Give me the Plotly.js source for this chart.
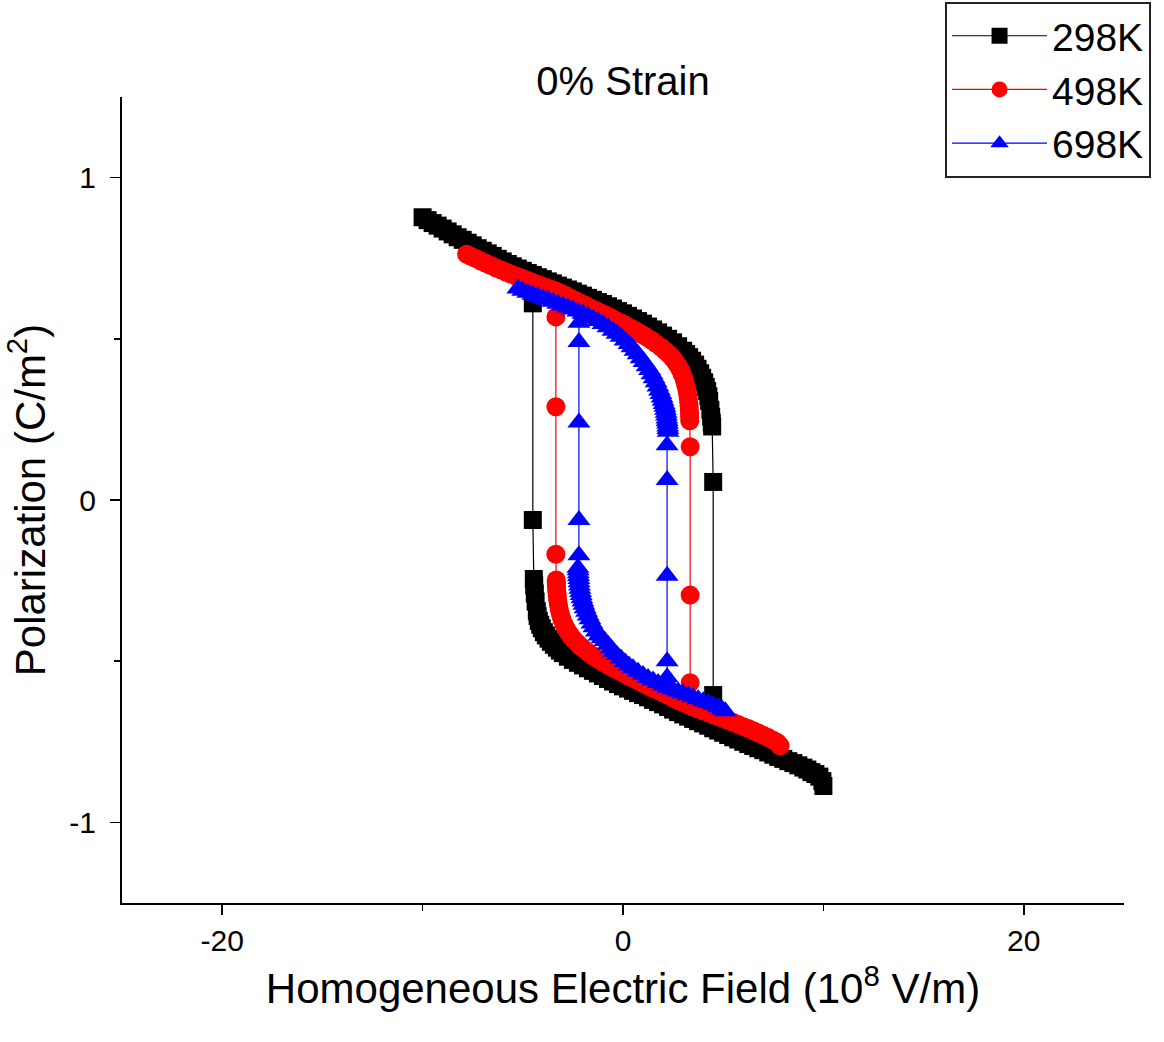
<!DOCTYPE html>
<html>
<head>
<meta charset="utf-8">
<script src="https://cdn.plot.ly/plotly-3.0.1.min.js"></script>
<style>html,body{margin:0;padding:0;background:#fff;}#chart{width:1164px;height:1042px;}</style>
</head>
<body>
<div id="chart"></div>
<script>
// ---------- data ----------
// each branch is a list of [field (1e8 V/m), polarization (C/m^2)] points
const seriesNames = ['298K', '498K', '698K'];
const seriesColors = ['#000000', '#ff0000', '#0000ff'];
const seriesSymbols = ['square', 'circle', 'triangle-up'];

// 298K
const k298Upper = [[-10.0,0.877],[-9.75,0.868],[-9.5,0.859],[-9.25,0.851],[-9.0,0.842],[-8.75,0.833],[-8.5,0.824],[-8.25,0.815],[-8.0,0.807],[-7.75,0.798],[-7.5,0.790],[-7.25,0.781],[-7.0,0.773],[-6.75,0.765],[-6.5,0.757],[-6.25,0.748],[-6.0,0.740],[-5.75,0.732],[-5.5,0.725],[-5.25,0.718],[-5.0,0.711],[-4.75,0.704],[-4.5,0.698],[-4.25,0.691],[-4.0,0.685],[-3.75,0.678],[-3.5,0.672],[-3.25,0.665],[-3.0,0.659],[-2.75,0.653],[-2.5,0.647],[-2.25,0.640],[-2.0,0.634],[-1.75,0.627],[-1.5,0.621],[-1.25,0.614],[-1.0,0.608],[-0.75,0.601],[-0.5,0.594],[-0.25,0.586],[0.0,0.579],[0.25,0.571],[0.5,0.563],[0.75,0.555],[1.0,0.547],[1.25,0.538],[1.5,0.529],[1.75,0.520],[2.0,0.510],[2.25,0.500],[2.5,0.489],[2.75,0.477],[3.0,0.463],[3.15,0.453],[3.3,0.443],[3.45,0.432],[3.6,0.420],[3.72,0.407],[3.85,0.393],[3.95,0.379],[4.05,0.365],[4.13,0.351],[4.2,0.338],[4.26,0.322],[4.3,0.307],[4.36,0.280],[4.4,0.258],[4.43,0.240],[4.45,0.228]];
const k298Lower = [[10.0,-0.887],[9.95,-0.872],[9.8,-0.858],[9.6,-0.850],[9.4,-0.844],[9.2,-0.836],[9.0,-0.830],[8.75,-0.823],[8.5,-0.816],[8.25,-0.810],[8.0,-0.803],[7.75,-0.797],[7.5,-0.790],[7.25,-0.783],[7.0,-0.776],[6.75,-0.770],[6.5,-0.763],[6.25,-0.757],[6.0,-0.750],[5.75,-0.743],[5.5,-0.736],[5.25,-0.729],[5.0,-0.722],[4.75,-0.715],[4.5,-0.708],[4.25,-0.700],[4.0,-0.693],[3.75,-0.686],[3.5,-0.679],[3.25,-0.672],[3.0,-0.665],[2.75,-0.658],[2.5,-0.650],[2.25,-0.642],[2.0,-0.634],[1.75,-0.627],[1.5,-0.620],[1.25,-0.612],[1.0,-0.605],[0.75,-0.599],[0.5,-0.592],[0.25,-0.585],[0.0,-0.578],[-0.25,-0.571],[-0.5,-0.563],[-0.75,-0.555],[-1.0,-0.546],[-1.25,-0.538],[-1.5,-0.530],[-1.75,-0.522],[-2.0,-0.513],[-2.25,-0.505],[-2.5,-0.496],[-2.75,-0.486],[-3.0,-0.475],[-3.15,-0.467],[-3.3,-0.458],[-3.45,-0.449],[-3.6,-0.440],[-3.72,-0.430],[-3.85,-0.420],[-3.95,-0.410],[-4.05,-0.398],[-4.13,-0.387],[-4.2,-0.375],[-4.26,-0.360],[-4.3,-0.345],[-4.36,-0.315],[-4.4,-0.290],[-4.43,-0.265],[-4.45,-0.245]];
const k298SwitchLeft = [[-4.5,-0.062],[-4.5,0.610]];
const k298SwitchRight = [[4.5,0.056],[4.5,-0.605]];

// 498K
const k498Upper = [[-7.8,0.762],[-7.6,0.756],[-7.35,0.749],[-7.1,0.741],[-6.85,0.734],[-6.6,0.727],[-6.35,0.720],[-6.1,0.714],[-5.85,0.707],[-5.6,0.701],[-5.35,0.695],[-5.1,0.689],[-4.85,0.683],[-4.6,0.677],[-4.35,0.671],[-4.1,0.665],[-3.85,0.660],[-3.6,0.654],[-3.35,0.648],[-3.1,0.641],[-2.85,0.634],[-2.6,0.626],[-2.35,0.618],[-2.1,0.610],[-1.85,0.603],[-1.6,0.595],[-1.35,0.588],[-1.1,0.580],[-0.85,0.573],[-0.6,0.565],[-0.35,0.557],[-0.1,0.549],[0.15,0.541],[0.4,0.533],[0.65,0.524],[0.9,0.515],[1.15,0.506],[1.4,0.496],[1.65,0.485],[1.9,0.474],[2.1,0.463],[2.3,0.452],[2.45,0.442],[2.6,0.430],[2.73,0.418],[2.85,0.405],[2.95,0.391],[3.05,0.375],[3.12,0.360],[3.18,0.345],[3.22,0.330],[3.26,0.315],[3.28,0.302],[3.3,0.290],[3.31,0.279],[3.32,0.268],[3.33,0.257],[3.33,0.246]];
const k498Lower = [[7.84,-0.762],[7.7,-0.752],[7.5,-0.745],[7.25,-0.737],[7.0,-0.730],[6.75,-0.723],[6.5,-0.716],[6.25,-0.709],[6.0,-0.703],[5.75,-0.696],[5.5,-0.690],[5.25,-0.684],[5.0,-0.678],[4.75,-0.672],[4.5,-0.666],[4.25,-0.660],[4.0,-0.654],[3.75,-0.648],[3.5,-0.642],[3.25,-0.635],[3.0,-0.628],[2.75,-0.621],[2.5,-0.614],[2.25,-0.606],[2.0,-0.599],[1.75,-0.591],[1.5,-0.584],[1.25,-0.576],[1.0,-0.569],[0.75,-0.561],[0.5,-0.553],[0.25,-0.545],[0.0,-0.537],[-0.25,-0.529],[-0.5,-0.521],[-0.75,-0.512],[-1.0,-0.503],[-1.25,-0.493],[-1.5,-0.483],[-1.75,-0.472],[-2.0,-0.460],[-2.15,-0.452],[-2.3,-0.443],[-2.45,-0.433],[-2.6,-0.422],[-2.73,-0.410],[-2.85,-0.398],[-2.95,-0.385],[-3.05,-0.370],[-3.12,-0.355],[-3.18,-0.340],[-3.22,-0.325],[-3.26,-0.310],[-3.28,-0.297],[-3.3,-0.285],[-3.31,-0.275],[-3.32,-0.265],[-3.33,-0.256],[-3.33,-0.248]];
const k498SwitchLeft = [[-3.35,-0.168],[-3.35,0.289],[-3.35,0.568]];
const k498SwitchRight = [[3.35,0.165],[3.35,-0.295],[3.35,-0.567]];

// 698K
const k698Upper = [[-5.25,0.656],[-5.0,0.649],[-4.75,0.643],[-4.5,0.637],[-4.25,0.632],[-4.0,0.626],[-3.75,0.621],[-3.5,0.615],[-3.25,0.609],[-3.0,0.603],[-2.75,0.597],[-2.5,0.591],[-2.25,0.585],[-2.0,0.578],[-1.75,0.571],[-1.5,0.563],[-1.25,0.555],[-1.0,0.546],[-0.75,0.536],[-0.5,0.525],[-0.3,0.516],[-0.1,0.506],[0.1,0.495],[0.3,0.484],[0.45,0.474],[0.6,0.463],[0.75,0.452],[0.9,0.440],[1.05,0.428],[1.2,0.415],[1.33,0.403],[1.45,0.390],[1.55,0.378],[1.65,0.365],[1.74,0.352],[1.82,0.340],[1.89,0.329],[1.95,0.318],[2.0,0.308],[2.05,0.298],[2.09,0.289],[2.12,0.280],[2.15,0.271],[2.17,0.262],[2.19,0.253],[2.2,0.245],[2.22,0.237],[2.23,0.228],[2.24,0.220],[2.25,0.212]];
const k698Lower = [[5.1,-0.655],[4.95,-0.650],[4.75,-0.643],[4.5,-0.636],[4.25,-0.630],[4.0,-0.624],[3.75,-0.618],[3.5,-0.612],[3.25,-0.606],[3.0,-0.600],[2.75,-0.594],[2.5,-0.588],[2.25,-0.582],[2.0,-0.575],[1.75,-0.568],[1.5,-0.560],[1.25,-0.552],[1.0,-0.543],[0.75,-0.533],[0.5,-0.522],[0.3,-0.513],[0.1,-0.503],[-0.1,-0.492],[-0.3,-0.481],[-0.45,-0.471],[-0.6,-0.460],[-0.75,-0.449],[-0.9,-0.437],[-1.05,-0.429],[-1.2,-0.420],[-1.33,-0.408],[-1.45,-0.395],[-1.55,-0.383],[-1.65,-0.370],[-1.74,-0.358],[-1.82,-0.347],[-1.89,-0.336],[-1.95,-0.325],[-2.0,-0.315],[-2.05,-0.305],[-2.09,-0.295],[-2.12,-0.285],[-2.15,-0.275],[-2.17,-0.265],[-2.19,-0.255],[-2.2,-0.245],[-2.22,-0.236],[-2.23,-0.227],[-2.24,-0.218],[-2.25,-0.210]];
const k698SwitchLeft = [[-2.2,-0.171],[-2.2,-0.062],[-2.2,0.240],[-2.2,0.490],[-2.2,0.550]];
const k698SwitchRight = [[2.2,0.170],[2.2,0.062],[2.2,-0.235],[2.2,-0.500],[2.2,-0.550]];

// axis ticks
const xTickVals = [-20, 0, 20];
const xTickText = ['-20', '0', '20'];
const xMinorVals = [-10, 10];
const yTickVals = [-1, 0, 1];
const yTickText = ['-1', '0', '1'];
const yMinorVals = [-0.5, 0.5];

// ---------- build traces ----------
// path: lower branch -> left switching -> (break) -> upper branch -> right switching
function loop(lower, swL, upper, swR) {
  const pts = [...lower, ...swL, [null, null], ...upper, ...swR];
  return { x: pts.map(p => p[0]), y: pts.map(p => p[1]) };
}
const loops = [
  loop(k298Lower, k298SwitchLeft, k298Upper, k298SwitchRight),
  loop(k498Lower, k498SwitchLeft, k498Upper, k498SwitchRight),
  loop(k698Lower, k698SwitchLeft, k698Upper, k698SwitchRight)
];
const markerSizes = [18, 19, 20];

const traces = loops.map((d, i) => ({
  type: 'scatter',
  mode: 'lines+markers',
  name: seriesNames[i],
  x: d.x,
  y: d.y,
  connectgaps: false,
  line: { color: seriesColors[i], width: 1.2 },
  marker: { symbol: seriesSymbols[i], color: seriesColors[i], size: markerSizes[i], line: { width: 0 } }
}));

const fontFam = '"Liberation Sans", Arial, sans-serif';
const layout = {
  width: 1164,
  height: 1042,
  paper_bgcolor: '#ffffff',
  plot_bgcolor: '#ffffff',
  margin: { l: 122, r: 40, t: 97, b: 139, autoexpand: false },
  font: { family: fontFam, color: '#000000', size: 30 },
  title: {
    text: '0% Strain',
    font: { family: fontFam, size: 40, color: '#000000' },
    x: 0.5, xref: 'paper', xanchor: 'center',
    y: 1 - 81 / 1042, yref: 'container', yanchor: 'middle'
  },
  showlegend: true,
  legend: {
    x: 0.8214, y: 1.118, xanchor: 'left', yanchor: 'top',
    bgcolor: '#ffffff', bordercolor: '#222222', borderwidth: 2,
    font: { family: fontFam, size: 39, color: '#000000' },
    itemwidth: 95, tracegroupgap: 0
  },
  xaxis: {
    range: [-25, 25],
    tickmode: 'array', tickvals: xTickVals, ticktext: xTickText,
    ticks: 'outside', ticklen: 10, tickwidth: 1.5, tickcolor: '#000000',
    minor: { tickmode: 'array', tickvals: xMinorVals, ticks: 'outside', ticklen: 6, tickwidth: 1.5, tickcolor: '#000000' },
    showline: true, linecolor: '#000000', linewidth: 2, mirror: false,
    showgrid: false, zeroline: false,
    tickfont: { family: fontFam, size: 30, color: '#000000' },
    title: { text: 'Homogeneous Electric Field (10<sup>8</sup> V/m)', font: { family: fontFam, size: 42, color: '#000000' }, standoff: 18 }
  },
  yaxis: {
    range: [-1.25, 1.25],
    tickmode: 'array', tickvals: yTickVals, ticktext: yTickText,
    ticks: 'outside', ticklen: 10, tickwidth: 1.5, tickcolor: '#000000',
    ticklabelstandoff: 8,
    minor: { tickmode: 'array', tickvals: yMinorVals, ticks: 'outside', ticklen: 6, tickwidth: 1.5, tickcolor: '#000000' },
    showline: true, linecolor: '#000000', linewidth: 2, mirror: false,
    showgrid: false, zeroline: false,
    tickfont: { family: fontFam, size: 30, color: '#000000' },
    title: { text: 'Polarization (C/m<sup>2</sup>)', font: { family: fontFam, size: 42, color: '#000000' }, standoff: 20 }
  }
};

Plotly.newPlot('chart', traces, layout, { displayModeBar: false, staticPlot: true });
</script>
</body>
</html>
